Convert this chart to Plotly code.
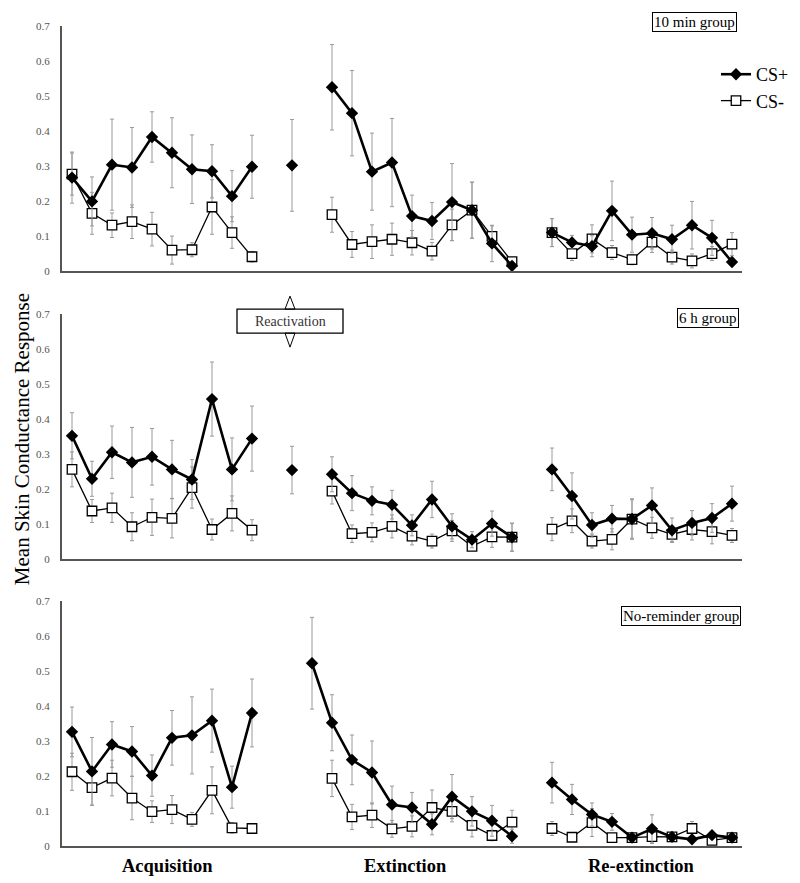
import plotly.graph_objects as go

# ---------------- data ----------------
acq_trials = list(range(1, 11))
react_trial = [12]
ext_trials = list(range(14, 24))
ext_trials_nr_plus = list(range(13, 24))
reext_trials = list(range(25, 35))

# 10 min group
acq_plus_10 = [0.267, 0.199, 0.304, 0.296, 0.383, 0.338, 0.291, 0.285, 0.214, 0.298]
acq_plus_10_se = [0.073, 0.07, 0.13, 0.114, 0.072, 0.10, 0.098, 0.076, 0.073, 0.09]
acq_minus_10 = [0.277, 0.165, 0.131, 0.141, 0.12, 0.06, 0.061, 0.183, 0.11, 0.041]
acq_minus_10_se = [0.06, 0.06, 0.035, 0.048, 0.048, 0.04, 0.02, 0.078, 0.045, 0.015]
react_plus_10 = [0.302]
react_plus_10_se = [0.131]
ext_plus_10 = [0.525, 0.451, 0.284, 0.310, 0.157, 0.143, 0.197, 0.174, 0.079, 0.015]
ext_plus_10_se = [0.122, 0.122, 0.11, 0.126, 0.06, 0.053, 0.11, 0.08, 0.052, 0.01]
ext_minus_10 = [0.161, 0.076, 0.084, 0.091, 0.081, 0.057, 0.132, 0.174, 0.099, 0.027]
ext_minus_10_se = [0.05, 0.037, 0.048, 0.046, 0.035, 0.025, 0.045, 0.08, 0.03, 0.01]
reext_plus_10 = [0.11, 0.082, 0.071, 0.172, 0.104, 0.108, 0.091, 0.131, 0.095, 0.026]
reext_plus_10_se = [0.04, 0.02, 0.03, 0.085, 0.05, 0.045, 0.04, 0.068, 0.05, 0.01]
reext_minus_10 = [0.11, 0.05, 0.092, 0.053, 0.033, 0.083, 0.04, 0.029, 0.05, 0.077]
reext_minus_10_se = [0.04, 0.02, 0.04, 0.02, 0.015, 0.03, 0.02, 0.02, 0.02, 0.033]

# 6 h group
acq_plus_6 = [0.352, 0.229, 0.305, 0.276, 0.292, 0.256, 0.227, 0.457, 0.256, 0.344]
acq_plus_6_se = [0.066, 0.05, 0.075, 0.1, 0.081, 0.083, 0.057, 0.106, 0.09, 0.093]
acq_minus_6 = [0.256, 0.137, 0.146, 0.092, 0.119, 0.116, 0.204, 0.084, 0.13, 0.082]
acq_minus_6_se = [0.05, 0.033, 0.042, 0.04, 0.052, 0.056, 0.059, 0.03, 0.05, 0.03]
react_plus_6 = [0.254]
react_plus_6_se = [0.068]
ext_plus_6 = [0.242, 0.188, 0.166, 0.155, 0.096, 0.17, 0.093, 0.055, 0.101, 0.062]
ext_plus_6_se = [0.05, 0.05, 0.04, 0.041, 0.03, 0.052, 0.036, 0.023, 0.036, 0.04]
ext_minus_6 = [0.194, 0.072, 0.076, 0.093, 0.065, 0.051, 0.08, 0.036, 0.063, 0.062]
ext_minus_6_se = [0.037, 0.025, 0.027, 0.033, 0.025, 0.02, 0.03, 0.01, 0.03, 0.04]
reext_plus_6 = [0.256, 0.18, 0.097, 0.115, 0.114, 0.153, 0.082, 0.103, 0.117, 0.158]
reext_plus_6_se = [0.061, 0.066, 0.035, 0.038, 0.058, 0.05, 0.035, 0.035, 0.041, 0.05]
reext_minus_6 = [0.085, 0.109, 0.051, 0.056, 0.114, 0.089, 0.07, 0.084, 0.078, 0.067]
reext_minus_6_se = [0.033, 0.034, 0.02, 0.03, 0.055, 0.03, 0.02, 0.03, 0.035, 0.02]

# No-reminder group
acq_plus_nr = [0.326, 0.213, 0.29, 0.27, 0.201, 0.309, 0.316, 0.358, 0.168, 0.38]
acq_plus_nr_se = [0.071, 0.097, 0.065, 0.071, 0.059, 0.078, 0.11, 0.09, 0.06, 0.097]
acq_minus_nr = [0.212, 0.167, 0.194, 0.137, 0.098, 0.104, 0.076, 0.159, 0.052, 0.05]
acq_minus_nr_se = [0.053, 0.05, 0.051, 0.062, 0.031, 0.04, 0.02, 0.067, 0.015, 0.01]
ext_plus_nr = [0.522, 0.352, 0.246, 0.21, 0.118, 0.11, 0.062, 0.141, 0.099, 0.072, 0.028]
ext_plus_nr_se = [0.131, 0.08, 0.071, 0.09, 0.053, 0.043, 0.03, 0.063, 0.042, 0.044, 0.02]
ext_minus_nr = [0.193, 0.083, 0.088, 0.049, 0.056, 0.11, 0.099, 0.059, 0.03, 0.068]
ext_minus_nr_se = [0.052, 0.036, 0.035, 0.024, 0.03, 0.05, 0.03, 0.033, 0.015, 0.034]
reext_plus_nr = [0.181, 0.133, 0.09, 0.069, 0.024, 0.049, 0.026, 0.019, 0.031, 0.024]
reext_plus_nr_se = [0.058, 0.043, 0.033, 0.024, 0.01, 0.04, 0.01, 0.01, 0.01, 0.008]
reext_minus_nr = [0.05, 0.025, 0.067, 0.024, 0.024, 0.027, 0.026, 0.05, 0.016, 0.024]
reext_minus_nr_se = [0.02, 0.01, 0.04, 0.01, 0.01, 0.02, 0.01, 0.02, 0.01, 0.01]

y_ticks = [0, 0.1, 0.2, 0.3, 0.4, 0.5, 0.6, 0.7]
y_tick_labels = ["0", "0.1", "0.2", "0.3", "0.4", "0.5", "0.6", "0.7"]
group_labels = ["10 min group", "6 h group", "No-reminder group"]
phase_labels = ["Acquisition", "Extinction", "Re-extinction"]
legend_names = ["CS+", "CS-"]

# ---------------- layout geometry (page pixel coords -> figure) ----------------
W, H = 800, 883
OFF = 8  # page body margin offset
PL, PR, PT, PB = 62, 742, 26, 845.7  # plot area in page pixels
ML, MT = PL - OFF, PT - OFF
MR = W - (PR - OFF)
MB = H - (PB - OFF)
PW, PH = PR - PL, PB - PT
SERIF = "Liberation Serif, Times New Roman, serif"


def px(x):
    return (x - PL) / PW


def py(y):
    return (PB - y) / PH


domains = [[py(271), 1.0], [py(558.7), py(314)], [0.0, py(600.7)]]

fig = go.Figure()


def join(parts):
    out = []
    for i, p in enumerate(parts):
        if i:
            out.append(None)
        out.extend(p)
    return out


def join_err(parts):
    out = []
    for i, p in enumerate(parts):
        if i:
            out.append(0)
        out.extend(p)
    return out


plus_style = dict(line=dict(color="black", width=2.6),
                  marker=dict(symbol="diamond", size=9.5, color="black",
                              line=dict(color="black", width=0)))
minus_style = dict(line=dict(color="black", width=1.3),
                   marker=dict(symbol="square", size=9.5, color="white",
                               line=dict(color="black", width=1.3)))

groups = [
    dict(
        plus=[(acq_trials, acq_plus_10, acq_plus_10_se), (react_trial, react_plus_10, react_plus_10_se),
              (ext_trials, ext_plus_10, ext_plus_10_se), (reext_trials, reext_plus_10, reext_plus_10_se)],
        minus=[(acq_trials, acq_minus_10, acq_minus_10_se), (ext_trials, ext_minus_10, ext_minus_10_se),
               (reext_trials, reext_minus_10, reext_minus_10_se)],
    ),
    dict(
        plus=[(acq_trials, acq_plus_6, acq_plus_6_se), (react_trial, react_plus_6, react_plus_6_se),
              (ext_trials, ext_plus_6, ext_plus_6_se), (reext_trials, reext_plus_6, reext_plus_6_se)],
        minus=[(acq_trials, acq_minus_6, acq_minus_6_se), (ext_trials, ext_minus_6, ext_minus_6_se),
               (reext_trials, reext_minus_6, reext_minus_6_se)],
    ),
    dict(
        plus=[(acq_trials, acq_plus_nr, acq_plus_nr_se), (ext_trials_nr_plus, ext_plus_nr, ext_plus_nr_se),
              (reext_trials, reext_plus_nr, reext_plus_nr_se)],
        minus=[(acq_trials, acq_minus_nr, acq_minus_nr_se), (ext_trials, ext_minus_nr, ext_minus_nr_se),
               (reext_trials, reext_minus_nr, reext_minus_nr_se)],
    ),
]

err_style = dict(type="data", visible=True, color="#9a9a9a", thickness=1, width=2)

for gi, g in enumerate(groups):
    xa = "x" if gi == 0 else f"x{gi + 1}"
    ya = "y" if gi == 0 else f"y{gi + 1}"
    for key, style, name in [("minus", minus_style, legend_names[1]), ("plus", plus_style, legend_names[0])]:
        parts = g[key]
        fig.add_trace(go.Scatter(
            x=join([p[0] for p in parts]),
            y=join([p[1] for p in parts]),
            error_y=dict(array=join_err([p[2] for p in parts]), **err_style),
            mode="lines+markers",
            connectgaps=False,
            name=name,
            legendrank=2 if key == "minus" else 1,
            showlegend=(gi == 0),
            xaxis=xa, yaxis=ya,
            **style,
        ))

axis_font = dict(family=SERIF, size=11, color="#555")
for gi in range(3):
    sfx = "" if gi == 0 else str(gi + 1)
    fig.update_layout(**{
        f"xaxis{sfx}": dict(domain=[0, 1], range=[0.5, 34.5], anchor=f"y{sfx}",
                            showline=True, linecolor="#555", linewidth=2,
                            showgrid=False, zeroline=False, showticklabels=False, ticks=""),
        f"yaxis{sfx}": dict(domain=domains[gi], range=[0, 0.7], anchor=f"x{sfx}",
                            tickvals=y_ticks, ticktext=y_tick_labels, tickfont=axis_font,
                            showline=True, linecolor="#555", linewidth=2,
                            showgrid=False, zeroline=False, ticks="", ticklabelstandoff=8),
    })

annotations = []
# group label boxes
group_pos = [(737, 12), (739, 308), (741, 606)]
for lab, (xr, yt) in zip(group_labels, group_pos):
    annotations.append(dict(text=lab, xref="paper", yref="paper", x=px(xr), y=py(yt),
                            xanchor="right", yanchor="top", showarrow=False,
                            font=dict(family=SERIF, size=15, color="black"),
                            bordercolor="black", borderwidth=1, borderpad=1, bgcolor="white"))
# phase labels
for lab, xc in zip(phase_labels, [167, 405, 641]):
    annotations.append(dict(text=f"<b>{lab}</b>", xref="paper", yref="paper", x=px(xc), y=py(866),
                            xanchor="center", yanchor="middle", showarrow=False,
                            font=dict(family=SERIF, size=18.5, color="black")))
# y title
annotations.append(dict(text="Mean Skin Conductance Response", xref="paper", yref="paper",
                        x=px(22), y=py(439), xanchor="center", yanchor="middle", textangle=-90,
                        showarrow=False, font=dict(family=SERIF, size=21, color="black")))
# reactivation label
annotations.append(dict(text="Reactivation", xref="paper", yref="paper", x=px(290), y=py(321),
                        xanchor="center", yanchor="middle", showarrow=False,
                        font=dict(family=SERIF, size=14, color="#333")))

shapes = []
# reactivation arrow (two open triangles) and box
shapes.append(dict(type="path", xref="paper", yref="paper",
                   path=f"M {px(290)} {py(296)} L {px(295)} {py(309)} L {px(285)} {py(309)} Z",
                   line=dict(color="black", width=1), fillcolor="white"))
shapes.append(dict(type="path", xref="paper", yref="paper",
                   path=f"M {px(290)} {py(347)} L {px(295)} {py(333)} L {px(285)} {py(333)} Z",
                   line=dict(color="black", width=1), fillcolor="white"))
shapes.append(dict(type="rect", xref="paper", yref="paper",
                   x0=px(237), x1=px(343), y0=py(333), y1=py(309),
                   line=dict(color="black", width=1.3), fillcolor="rgba(0,0,0,0)"))

fig.update_layout(
    width=W, height=H,
    margin=dict(l=ML, r=MR, t=MT, b=MB),
    paper_bgcolor="white", plot_bgcolor="white",
    showlegend=True,
    legend=dict(x=px(716), y=py(56), xanchor="left", yanchor="top",
                font=dict(family=SERIF, size=18, color="black"),
                bgcolor="rgba(0,0,0,0)", borderwidth=0, tracegroupgap=0,
                itemwidth=30, traceorder="normal"),
    annotations=annotations,
    shapes=shapes,
)

fig.write_html("out.html")
